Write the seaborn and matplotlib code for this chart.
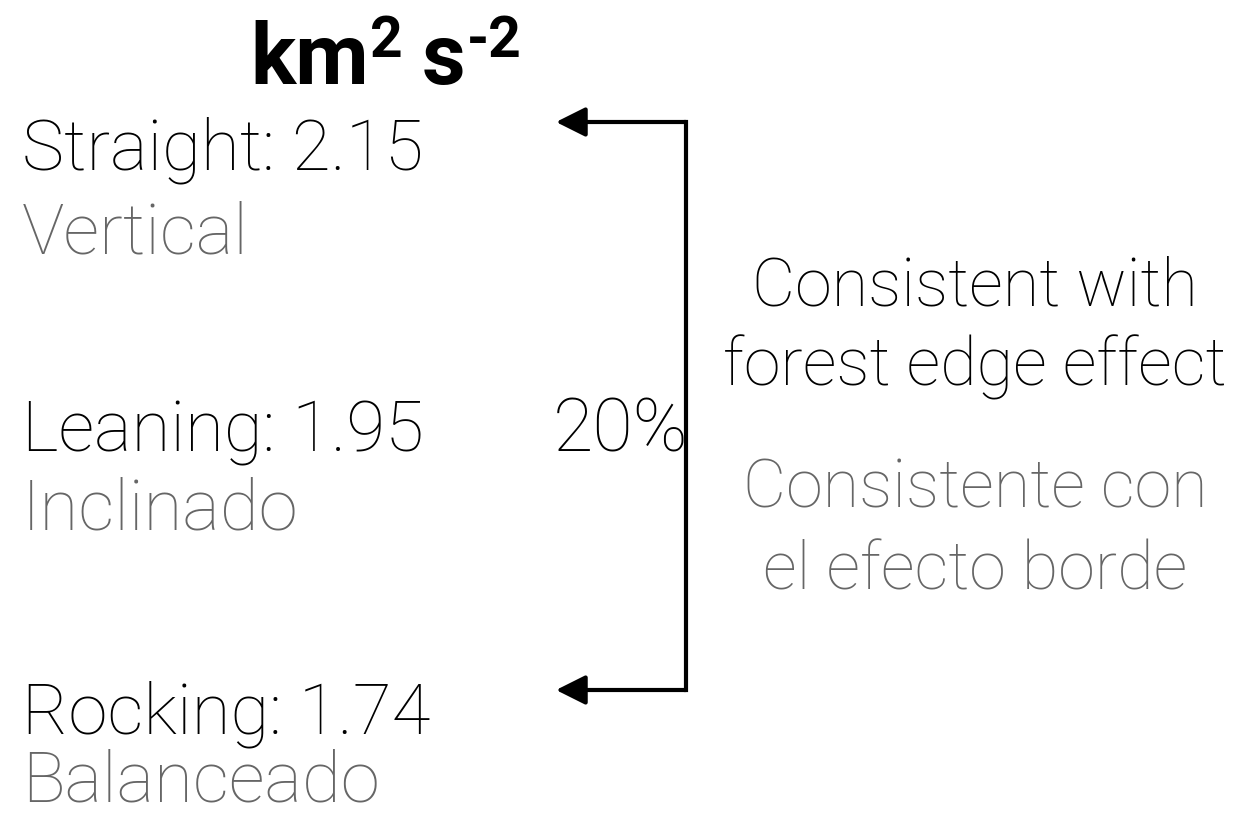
import matplotlib
matplotlib.use("Agg")
import matplotlib.pyplot as plt
import seaborn as sns

# ==========================================
# DATA
# ==========================================
categories = ["Straight", "Leaning", "Rocking"]
values = [2.15, 1.95, 1.74]
spanish = ["Vertical", "Inclinado", "Balanceado"]
difference_label = "20%"
note_en = ["Consistent with", "forest edge effect"]
note_es = ["Consistente con", "el efecto borde"]

# ==========================================
# STYLE
# ==========================================
sns.set_theme(style="white")
plt.rcParams["font.family"] = ["Roboto", "DejaVu Sans"]
plt.rcParams["text.color"] = "black"

BLACK = "#000000"
GRAY = "#666666"

fig = plt.figure(figsize=(12.52, 8.16), dpi=100)
ax = fig.add_axes([0, 0, 1, 1])
ax.set_xlim(0, 1252)
ax.set_ylim(816, 0)
ax.axis("off")

# unit header  km^2 s^-2
km = ax.text(250, 84, "km", fontsize=61, fontweight="bold", color=BLACK, va="baseline")
ax.annotate("2", xy=(1, 1), xycoords=km, xytext=(1, 4), textcoords="offset points",
            fontsize=41, fontweight="bold", color=BLACK, va="top", ha="left")
s = ax.annotate("s", xy=(1, 0), xycoords=km, xytext=(38, 0), textcoords="offset points",
                fontsize=61, fontweight="bold", color=BLACK, va="bottom", ha="left")
ax.annotate("-2", xy=(1, 1), xycoords=s, xytext=(1, 4), textcoords="offset points",
            fontsize=41, fontweight="bold", color=BLACK, va="top", ha="left")

# left labels (one row per category)
row_base = [170, 452, 733]
sub_gap = [84, 78, 68]
for i, (cat, val, es) in enumerate(zip(categories, values, spanish)):
    ax.text(22, row_base[i], f"{cat}: {val:.2f}", fontsize=51, fontweight="light",
            color=BLACK, va="baseline", ha="left")
    ax.text(22, row_base[i] + sub_gap[i], es, fontsize=51, fontweight="light",
            color=GRAY, va="baseline", ha="left")

# bracket with arrows from top row to bottom row
x_bar = 686
y_top = 122
y_bot = 690
ax.plot([x_bar, x_bar], [y_top, y_bot], color=BLACK, lw=3, solid_capstyle="projecting")
for y in (y_top, y_bot):
    ax.annotate("", xy=(556, y), xytext=(x_bar, y),
                arrowprops=dict(arrowstyle="-|>,head_length=0.6,head_width=0.3",
                                mutation_scale=30, color=BLACK, lw=3,
                                shrinkA=0, shrinkB=0))
ax.text(553, 452, difference_label, fontsize=53, fontweight="light",
        color=BLACK, va="baseline", ha="left")

# right notes
cx = 975
for j, line in enumerate(note_en):
    ax.text(cx, 305 + j * 80, line, fontsize=48, fontweight="light",
            color=BLACK, va="baseline", ha="center")
for j, line in enumerate(note_es):
    ax.text(cx, 507 + j * 82, line, fontsize=48, fontweight="light",
            color=GRAY, va="baseline", ha="center")

fig.savefig("out.png", dpi=100)
